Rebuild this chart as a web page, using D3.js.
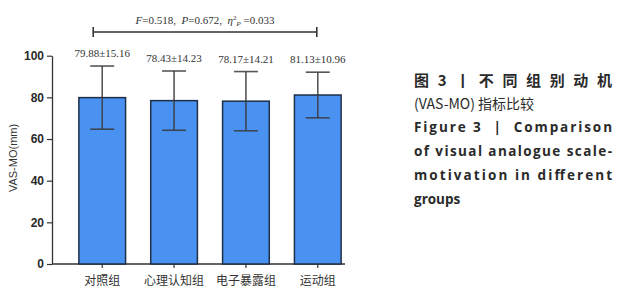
<!DOCTYPE html>
<html>
<head>
<meta charset="utf-8">
<script src="https://cdn.jsdelivr.net/npm/d3@7"></script>
<style>
  body { margin: 0; background: #fff; }
  svg { display: block; }
</style>
</head>
<body>
<div id="chart"></div>
<script>
var groups = ["对照组", "心理认知组", "电子暴露组", "运动组"];
var means = [79.88, 78.43, 78.17, 81.13];
var sds = [15.16, 14.23, 14.21, 10.96];
var yTicks = [0, 20, 40, 60, 80, 100];

var captionZh = ["图3丨不同组别动机", "(VAS-MO) 指标比较"];
var captionEn = ["Figure 3  |  Comparison", "of visual analogue scale-", "motivation in different", "groups"];

var width = 623, height = 300;

var svg = d3.select('#chart')
    .append('svg')
    .attr('width', width)
    .attr('height', height);

var y = d3.scaleLinear().domain([0, 100]).range([264, 55.7]);
var x = d3.scaleBand().domain(groups).range([53, 367]).paddingInner(0.35).paddingOuter(0.36);

// y axis
var yAxis = svg.append('g')
    .attr('transform', 'translate(52,0)')
    .call(d3.axisLeft(y).tickValues(yTicks).tickSize(5).tickPadding(3).tickSizeOuter(0));
yAxis.select('.domain').attr('stroke', '#333').attr('stroke-width', 1.3);
yAxis.selectAll('.tick line').attr('stroke', '#333').attr('stroke-width', 1.2);
yAxis.selectAll('.tick text')
    .attr('fill', '#2a2a2a')
    .style('font-family', '"Liberation Sans", Arial, sans-serif')
    .style('font-size', '12px')
    .style('font-weight', 'bold');

// x axis
var xAxis = svg.append('g')
    .attr('transform', 'translate(0,264)')
    .call(d3.axisBottom(x).tickSize(4).tickPadding(8).tickSizeOuter(0));
xAxis.select('.domain').attr('d', 'M52,0H345').attr('stroke', '#333').attr('stroke-width', 1.3);
xAxis.selectAll('.tick line').attr('stroke', '#333').attr('stroke-width', 1.2);
xAxis.selectAll('.tick text')
    .attr('fill', '#333')
    .style('font-family', '"Noto Sans CJK SC", sans-serif')
    .style('font-size', '12px');

// bars
svg.selectAll('.bar')
    .data(groups)
    .enter()
    .append('rect')
    .attr('x', d => x(d))
    .attr('y', (d, i) => y(means[i]))
    .attr('width', x.bandwidth())
    .attr('height', (d, i) => y(0) - y(means[i]))
    .attr('fill', '#4a92f2')
    .attr('stroke', '#1f2f45')
    .style('stroke-width', '1.5px');

// error bars
var capW = 12;
var err = svg.selectAll('.err')
    .data(groups)
    .enter()
    .append('g')
    .attr('stroke', '#3a3a3a')
    .attr('stroke-opacity', 0.85)
    .attr('stroke-width', 1.6);
err.append('line')
    .attr('x1', d => x(d) + x.bandwidth() / 2)
    .attr('x2', d => x(d) + x.bandwidth() / 2)
    .attr('y1', (d, i) => y(means[i] + sds[i]))
    .attr('y2', (d, i) => y(means[i] - sds[i]));
err.append('line')
    .attr('x1', d => x(d) + x.bandwidth() / 2 - capW)
    .attr('x2', d => x(d) + x.bandwidth() / 2 + capW)
    .attr('y1', (d, i) => y(means[i] + sds[i]))
    .attr('y2', (d, i) => y(means[i] + sds[i]));
err.append('line')
    .attr('x1', d => x(d) + x.bandwidth() / 2 - capW)
    .attr('x2', d => x(d) + x.bandwidth() / 2 + capW)
    .attr('y1', (d, i) => y(means[i] - sds[i]))
    .attr('y2', (d, i) => y(means[i] - sds[i]));

// value labels
svg.selectAll('.val')
    .data(groups)
    .enter()
    .append('text')
    .attr('x', d => x(d) + x.bandwidth() / 2)
    .attr('y', (d, i) => y(means[i] + sds[i]) - 9)
    .attr('text-anchor', 'middle')
    .attr('fill', '#333')
    .style('font-family', '"Liberation Serif", "Times New Roman", serif')
    .style('font-size', '11px')
    .text((d, i) => means[i].toFixed(2) + '±' + sds[i].toFixed(2));

// significance bracket
var bx1 = x(groups[0]) + x.bandwidth() / 2 - 9;
var bx2 = x(groups[3]) + x.bandwidth() / 2 - 1;
var by = 32;
var bracket = svg.append('g').attr('stroke', '#333').attr('stroke-width', 1.6);
bracket.append('line').attr('x1', bx1).attr('x2', bx2).attr('y1', by).attr('y2', by);
bracket.append('line').attr('x1', bx1).attr('x2', bx1).attr('y1', by - 5).attr('y2', by + 5);
bracket.append('line').attr('x1', bx2).attr('x2', bx2).attr('y1', by - 5).attr('y2', by + 5);

var stat = svg.append('text')
    .attr('x', (bx1 + bx2) / 2)
    .attr('y', 24)
    .attr('text-anchor', 'middle')
    .attr('fill', '#333')
    .style('font-family', '"Liberation Serif", "Times New Roman", serif')
    .style('font-size', '11px')
    .style('white-space', 'pre');
stat.append('tspan').style('font-style', 'italic').text('F');
stat.append('tspan').text('=0.518,  ');
stat.append('tspan').style('font-style', 'italic').text('P');
stat.append('tspan').text('=0.672,  ');
stat.append('tspan').style('font-style', 'italic').text('η');
stat.append('tspan').attr('dy', -4).style('font-size', '7px').text('2');
stat.append('tspan').attr('dy', 6).style('font-size', '7px').style('font-style', 'italic').text('P');
stat.append('tspan').attr('dy', -2).text(' =0.033');

// y label
svg.append('text')
    .attr('transform', 'translate(17,158) rotate(-90)')
    .attr('text-anchor', 'middle')
    .attr('fill', '#333')
    .style('font-family', '"Liberation Sans Narrow", "Liberation Sans", Arial, sans-serif')
    .style('font-size', '11px')
    .text('VAS-MO(mm)');

// caption
var capX = 414, capR = 612;
var zhY = [86, 109];
var enY = [132, 156, 180, 204];
captionZh.forEach(function (t, i) {
    var el = svg.append('text')
        .attr('x', capX)
        .attr('y', zhY[i])
        .attr('fill', '#2a2a2a')
        .style('font-family', '"Noto Sans CJK SC", sans-serif')
        .style('font-size', i === 0 ? '15px' : '14px')
        .style('font-weight', i === 0 ? 'bold' : 'normal')
        .style('white-space', 'pre')
        .text(t);
    if (i === 0) el.attr('textLength', capR - capX).attr('lengthAdjust', 'spacing');
});
captionEn.forEach(function (t, i) {
    var el = svg.append('text')
        .attr('x', capX)
        .attr('y', enY[i])
        .attr('fill', '#2a2a2a')
        .style('font-family', '"Open Sans", Lato, sans-serif')
        .style('font-size', '13.5px')
        .style('font-weight', 'bold')
        .style('white-space', 'pre')
        .text(t);
    if (i < captionEn.length - 1) el.attr('textLength', capR - capX).attr('lengthAdjust', 'spacing');
});
</script>
</body>
</html>
